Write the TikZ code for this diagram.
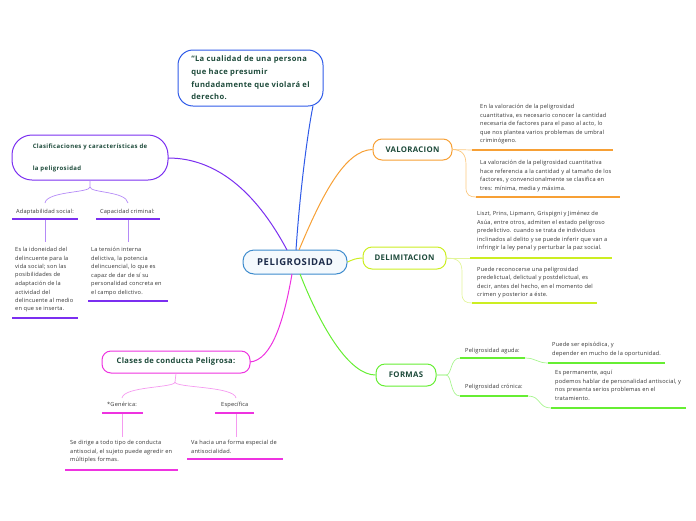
\documentclass[tikz,border=0pt]{standalone}
\usepackage{fontspec}
\setmainfont{Open Sans}
\newfontfamily\hfont[LetterSpace=4]{Open Sans}
\newfontfamily\qfont[LetterSpace=5]{Open Sans}
\newfontfamily\kfont[LetterSpace=6]{Open Sans}
\newfontfamily\bfont[LetterSpace=3]{Open Sans}
\definecolor{cblue}{HTML}{2F5BE8}
\definecolor{ccenter}{HTML}{3D8BCD}
\definecolor{cfill}{HTML}{F4F9FD}
\definecolor{cnavy}{HTML}{1C2B4A}
\definecolor{cpurple}{HTML}{7B2FF0}
\definecolor{lpurple}{HTML}{B48AF7}
\definecolor{corange}{HTML}{F7A035}
\definecolor{lorange}{HTML}{FBC880}
\definecolor{cyellow}{HTML}{CCEE22}
\definecolor{lyellow}{HTML}{E2F59A}
\definecolor{cgreen}{HTML}{66EE33}
\definecolor{lgreen}{HTML}{A8F590}
\definecolor{cmag}{HTML}{EE33E0}
\definecolor{lmag}{HTML}{F59AF0}
\definecolor{ctext}{HTML}{1D4A3A}
\definecolor{cbody}{HTML}{333333}
\tikzset{
  topicbox/.style={draw=#1, line width=1pt, fill=white, rounded corners=9pt, text=ctext,
    font=\hfont\fontsize{7.8}{9}\selectfont\bfseries, inner sep=2pt},
  body/.style={anchor=north west, inner sep=0pt, align=left, text=cbody,
    font=\bfont\fontsize{5.65}{8.5}\selectfont},
  branch/.style={draw=#1, line width=1pt},
  sub/.style={draw=#1, line width=0.7pt},
  uline/.style={draw=#1, line width=1.3pt},
}
\begin{document}
\begin{tikzpicture}[x=1pt,y=-1pt]
\useasboundingbox (0,0) rectangle (696,520);

% ---- main topics
\node[draw=ccenter, fill=cfill, line width=1pt, rounded corners=11pt, minimum width=104pt,
  minimum height=24pt, text=cnavy, font=\kfont\fontsize{9.5}{10}\selectfont\bfseries] (center) at (295,262) {PELIGROSIDAD};

\node[draw=cblue, line width=1pt, rounded corners=15pt, minimum width=145pt, minimum height=56pt,
  align=left, text=ctext, font=\qfont\fontsize{7.6}{12.7}\selectfont\bfseries] (quote) at (250.5,78)
  {“La cualidad de una persona\\que hace presumir\\fundadamente que violará el\\derecho.};

\node[draw=cpurple, line width=1pt, rounded corners=20pt, minimum width=156pt, minimum height=45pt,
  align=left, text=ctext, font=\kfont\fontsize{6.0}{22}\selectfont\bfseries] (clas) at (90,157.5)
  {Clasificaciones y características de\\la peligrosidad};

\node[topicbox=corange, minimum width=79pt, minimum height=21pt] (val) at (412.5,149.5) {VALORACION};
\node[topicbox=cyellow, minimum width=83pt, minimum height=22pt] (del) at (404.5,258) {DELIMITACION};
\node[topicbox=cgreen, minimum width=60pt, minimum height=22pt] (for) at (406,375) {FORMAS};
\node[topicbox=cmag, minimum width=148pt, minimum height=22pt, font=\hfont\fontsize{7.6}{9}\selectfont\bfseries] (cla) at (176,362) {Clases de conducta Peligrosa:};

% ---- main connectors
\coordinate (cN1) at (287,250);
\coordinate (cN2) at (296,250);
\coordinate (cN3) at (299,250);
\coordinate (cS1) at (292,274);
\coordinate (cS2) at (300,274);
\coordinate (qEnd) at (313,106);
\coordinate (clEnd) at (168,158);
\coordinate (clsEnd) at (250,362);
\draw[branch=cblue] (cN2) .. controls (300,190) and (308,130) .. (qEnd);
\draw[branch=cpurple] (cN1) .. controls (255,190) and (215,158) .. (clEnd);
\draw[branch=corange] (cN3) .. controls (322,195) and (345,150) .. (val.west);
\draw[branch=cyellow] (center.east) .. controls (352,260) and (356,258) .. (del.west);
\draw[branch=cgreen] (cS2) .. controls (322,330) and (350,375) .. (for.west);
\draw[branch=cmag] (cS1) .. controls (284,320) and (272,360) .. (clsEnd);

% ---- VALORACION
\node[body] (v1) at (480,104) {En la valoración de la peligrosidad\\cuantitativa, es necesario conocer la cantidad\\necesaria de factores para el paso al acto, lo\\que nos plantea varios problemas de umbral\\criminógeno.};
\node[body] (v2) at (480,160) {La valoración de la peligrosidad cuantitativa\\hace referencia a la cantidad y al tamaño de los\\factores, y convencionalmente se clasifica en\\tres: mínima, media y máxima.};
\coordinate (v1a) at (472,150); \coordinate (v1b) at (613,150);
\coordinate (v2a) at (476,197); \coordinate (v2b) at (620,197);
\draw[sub=lorange] (val.east) -- (v1a);
\draw[sub=lorange] (val.east) .. controls (462,150) and (466,154) .. (466,165) -- (466,188) .. controls (466,195) and (470,197) .. (v2a);
\draw[uline=corange] (v1a) -- (v1b);
\draw[uline=corange] (v2a) -- (v2b);

% ---- DELIMITACION
\node[body] (d1) at (477,211) {Liszt, Prins, Lipmann, Grispigni y Jiménez de\\Asúa, entre otros, admiten el estado peligroso\\predelictivo. cuando se trata de individuos\\inclinados al delito y se puede inferir que van a\\infringir la ley penal y perturbar la  paz social.};
\node[body] (d2) at (477,267) {Puede reconocerse una peligrosidad\\predelictual, delictual y postdelictual, es\\decir, antes del hecho, en el momento del\\crimen y posterior a éste.};
\coordinate (d1a) at (470,258); \coordinate (d1b) at (612,258);
\coordinate (d2a) at (472,303); \coordinate (d2b) at (597,303);
\draw[sub=lyellow] (del.east) -- (d1a);
\draw[sub=lyellow] (del.east) .. controls (458,258) and (462,262) .. (462,272) -- (462,294) .. controls (462,301) and (466,303) .. (d2a);
\draw[uline=cyellow] (d1a) -- (d1b);
\draw[uline=cyellow] (d2a) -- (d2b);

% ---- FORMAS
\node[body] (ag) at (465,348) {Peligrosidad aguda:};
\node[body] (cr) at (465,384) {Peligrosidad crónica:};
\node[body] (agt) at (552,342) {Puede ser episódica, y\\depender en mucho de la oportunidad.};
\node[body] (crt) at (555,370) {Es permanente, aquí\\podemos hablar de personalidad antisocial, y\\nos presenta serios problemas en el\\tratamiento.};
\coordinate (aga) at (460,358); \coordinate (agb) at (525,358);
\coordinate (cra) at (460,396); \coordinate (crb) at (528,396);
\coordinate (agta) at (548,363); \coordinate (agtb) at (665,363);
\coordinate (crta) at (551,408); \coordinate (crtb) at (686,408);
\draw[sub=lgreen] (for.east) -- (446,375) .. controls (452,375) and (450,358) .. (aga);
\draw[sub=lgreen] (for.east) -- (446,375) .. controls (452,375) and (450,396) .. (cra);
\draw[uline=cgreen] (aga) -- (agb);
\draw[uline=cgreen] (cra) -- (crb);
\draw[sub=lgreen] (agb) .. controls (536,358) and (537,363) .. (agta);
\draw[sub=lgreen] (crb) .. controls (541,396) and (538,408) .. (crta);
\draw[uline=cgreen] (agta) -- (agtb);
\draw[uline=cgreen] (crta) -- (crtb);

% ---- Clasificaciones
\node[body] (ad) at (16,209) {Adaptabilidad social:};
\node[body] (cc) at (100,209) {Capacidad criminal:};
\node[body] (adt) at (15,247) {Es la idoneidad del\\delincuente para la\\vida social; son las\\posibilidades de\\adaptación de la\\actividad del\\delincuente al medio\\en que se inserta.};
\node[body] (cct) at (91,247) {La tensión interna\\delictiva, la potencia\\delincuencial, lo que es\\capaz de dar de sí su\\personalidad concreta  en\\el campo delictivo.};
\coordinate (ada) at (12,219); \coordinate (adb) at (78,219);
\coordinate (cca) at (96,219); \coordinate (ccb) at (160,219);
\coordinate (adta) at (12,318); \coordinate (adtb) at (78,318);
\coordinate (ccta) at (88,301); \coordinate (cctb) at (168,301);
\coordinate (adtop) at (45,203); \coordinate (cctop) at (128,203);
\coordinate (adbot) at (45,219); \coordinate (ccbot) at (128,219);
\coordinate (adv) at (45,242); \coordinate (ccv) at (128,242);
\draw[sub=lpurple] (clas.south) -- (90,187) .. controls (90,193) and (47,191) .. (adtop);
\draw[sub=lpurple] (90,187) .. controls (90,193) and (126,191) .. (cctop);
\draw[sub=lpurple] (adbot) -- (adv);
\draw[sub=lpurple] (ccbot) -- (ccv);
\draw[uline=cpurple] (ada) -- (adb);
\draw[uline=cpurple] (cca) -- (ccb);
\draw[uline=cpurple] (adta) -- (adtb);
\draw[uline=cpurple] (ccta) -- (cctb);

% ---- Clases de conducta
\node[body] (gen) at (107,402) {*Genérica:};
\node[body] (esp) at (221,402) {Específica};
\node[body] (gent) at (70,440) {Se dirige a todo tipo de conducta\\antisocial, el sujeto puede agredir en\\múltiples formas.};
\node[body] (espt) at (191,440) {Va hacia una forma especial de\\antisocialidad.};
\coordinate (gena) at (102,413); \coordinate (genb) at (143,413);
\coordinate (espa) at (215,413); \coordinate (espb) at (254,413);
\coordinate (genta) at (65,470); \coordinate (gentb) at (178,470);
\coordinate (espta) at (187,459); \coordinate (esptb) at (283,459);
\coordinate (gentop) at (122,398); \coordinate (esptop) at (236,398);
\coordinate (genbot) at (122,413); \coordinate (espbot) at (236,413);
\coordinate (genv) at (122,437); \coordinate (espv) at (236,437);
\draw[sub=lmag] (cla.south) -- (175,382) .. controls (175,388) and (124,386) .. (gentop);
\draw[sub=lmag] (175,382) .. controls (175,388) and (234,386) .. (esptop);
\draw[sub=lmag] (genbot) -- (genv);
\draw[sub=lmag] (espbot) -- (espv);
\draw[uline=cmag] (gena) -- (genb);
\draw[uline=cmag] (espa) -- (espb);
\draw[uline=cmag] (genta) -- (gentb);
\draw[uline=cmag] (espta) -- (esptb);
\end{tikzpicture}
\end{document}
